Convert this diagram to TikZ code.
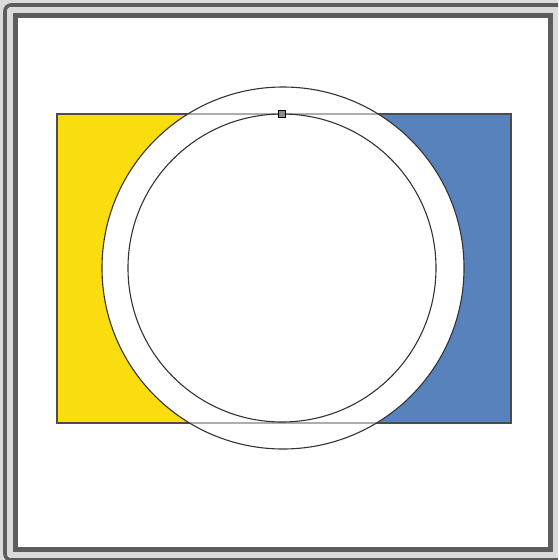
\documentclass[tikz,border=0pt]{standalone}
\begin{document}
\begin{tikzpicture}[x=1pt,y=-1pt,
  frameline/.style={draw=black!64,line width=4.5pt},
  circline/.style={draw=black!80,line width=1.1pt},
  rectdark/.style={draw=black!70,line width=1.6pt},
  rectlight/.style={draw=black!32,line width=1.6pt}]
\definecolor{myyellow}{RGB}{249,221,14}
\definecolor{myblue}{RGB}{88,130,187}
\definecolor{bggray}{RGB}{218,218,218}
\useasboundingbox (0,0) rectangle (558,560);
\fill[bggray] (0,0) rectangle (558,560);
\begin{scope}
\clip (0,0) rectangle (558,560);
\draw[draw=black!64,line width=3.6pt,rounded corners=6pt] (5,5) rectangle (565,560);
\end{scope}
\draw[frameline,fill=white] (15.5,15.5) rectangle (550.5,549.5);
% rectangle fills
\fill[myyellow] (57,114) rectangle (283,423);
\fill[myblue] (283,114) rectangle (511,423);
% white ring disc
\fill[white] (283,268) circle (181);
% rectangle outline light inside circle
\draw[rectlight] (57,114) rectangle (511,423);
\begin{scope}[even odd rule]
\clip (0,0) rectangle (558,560) (283,268) circle (181);
\draw[rectdark] (57,114) rectangle (511,423);
\end{scope}
% circles
\draw[circline] (283,268) circle (181);
\draw[circline] (282,268) circle (154);
% small marker
\draw[black,line width=1.4pt,fill=black!45] (278.5,110.5) rectangle (285.5,117.5);
\end{tikzpicture}
\end{document}
